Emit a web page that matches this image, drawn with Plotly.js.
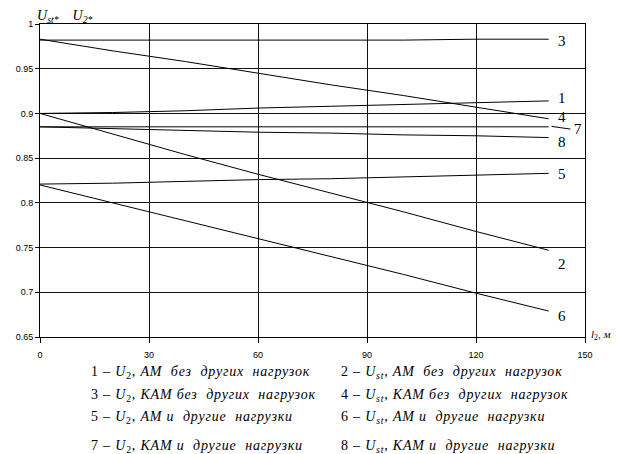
<!DOCTYPE html>
<html>
<head>
<meta charset="utf-8">
<script src="https://cdn.plot.ly/plotly-3.0.1.min.js"></script>
<style>
  html, body { margin: 0; padding: 0; background: #fff; }
  #chart { width: 621px; height: 454px; }
</style>
</head>
<body>
<div id="chart"></div>
<script>
// Cable length l2, m
const lengths = [0, 20, 40, 60, 80, 100, 120, 140];

// Relative voltages for the eight cases
const u2AmAlone   = [0.900, 0.901, 0.903, 0.906, 0.908, 0.910, 0.912, 0.914]; // 1
const ustAmAlone  = [0.900, 0.877, 0.854, 0.832, 0.811, 0.790, 0.768, 0.747]; // 2
const u2KamAlone  = [0.982, 0.982, 0.982, 0.982, 0.982, 0.982, 0.983, 0.983]; // 3
const ustKamAlone = [0.983, 0.970, 0.958, 0.945, 0.932, 0.920, 0.907, 0.894]; // 4
const u2AmOther   = [0.821, 0.822, 0.824, 0.826, 0.827, 0.829, 0.831, 0.833]; // 5
const ustAmOther  = [0.820, 0.800, 0.780, 0.760, 0.740, 0.720, 0.699, 0.679]; // 6
const u2KamOther  = [0.885, 0.885, 0.885, 0.885, 0.885, 0.885, 0.885, 0.885]; // 7
const ustKamOther = [0.885, 0.883, 0.881, 0.879, 0.878, 0.876, 0.875, 0.873]; // 8

const seriesList = [u2AmAlone, ustAmAlone, u2KamAlone, ustKamAlone,
                    u2AmOther, ustAmOther, u2KamOther, ustKamOther];
const curveNumbers = ['1', '2', '3', '4', '5', '6', '7', '8'];

// Curve number positions (x in m, y in relative units)
const labelX = [142, 142, 142, 142, 142, 142, 146.3, 142];
const labelY = [0.917, 0.732, 0.981, 0.896, 0.832, 0.673, 0.883, 0.868];

const xTicks = [0, 30, 60, 90, 120, 150];
const yTicks = [0.65, 0.7, 0.75, 0.8, 0.85, 0.9, 0.95, 1];
const yTickText = ['0.65', '0.7', '0.75', '0.8', '0.85', '0.9', '0.95', '1'];

const legendLines = [
  '1 – <i>U</i><sub>2</sub>, <i>АМ  без  других  нагрузок</i>',
  '2 – <i>U</i><sub><i>st</i></sub>, <i>АМ  без  других  нагрузок</i>',
  '3 – <i>U</i><sub>2</sub>, <i>КАМ без  других  нагрузок</i>',
  '4 – <i>U</i><sub><i>st</i></sub>, <i>КАМ без  других  нагрузок</i>',
  '5 – <i>U</i><sub>2</sub>, <i>АМ и  другие  нагрузки</i>',
  '6 – <i>U</i><sub><i>st</i></sub>, <i>АМ и  другие  нагрузки</i>',
  '7 – <i>U</i><sub>2</sub>, <i>КАМ и  другие  нагрузки</i>',
  '8 – <i>U</i><sub><i>st</i></sub>, <i>КАМ и  другие  нагрузки</i>'
];

const W = 621, H = 454;
const M = { l: 40, r: 36, t: 24, b: 117 };
const pw = W - M.l - M.r, ph = H - M.t - M.b;
const px2x = p => (p - M.l) / pw;
const py2y = p => (H - M.b - p) / ph;

const serif = 'Liberation Serif, Times New Roman, serif';

const traces = seriesList.map((ys, i) => ({
  x: lengths, y: ys, type: 'scatter', mode: 'lines',
  line: { color: '#000', width: 1 },
  name: curveNumbers[i], hoverinfo: 'skip'
}));

const annotations = [];
curveNumbers.forEach((n, i) => {
  annotations.push({
    x: labelX[i], y: labelY[i], xref: 'x', yref: 'y',
    text: n, showarrow: false, xanchor: 'left', yanchor: 'middle',
    font: { family: serif, size: 15, color: '#000' }
  });
});

// axis captions
annotations.push({
  xref: 'paper', yref: 'paper', x: px2x(35), y: py2y(27),
  xanchor: 'left', yanchor: 'bottom', showarrow: false,
  text: '<i>U</i><sub><i>st*</i></sub>\u00a0\u00a0\u00a0\u00a0<i>U</i><sub><i>2*</i></sub>',
  font: { family: serif, size: 14, color: '#000' }
});
annotations.push({
  xref: 'paper', yref: 'paper', x: px2x(589), y: py2y(335),
  xanchor: 'left', yanchor: 'middle', showarrow: false,
  text: '<i>l</i><sub>2</sub><i>, м</i>',
  font: { family: serif, size: 11, color: '#000' }
});

// legend text under the plot, two columns
const legendStart = annotations.length;
const colX = [89, 339];
const rowY = [372, 395, 417, 446];
legendLines.forEach((t, i) => {
  annotations.push({
    xref: 'paper', yref: 'paper',
    x: px2x(colX[i % 2]), y: py2y(rowY[Math.floor(i / 2)]),
    xanchor: 'left', yanchor: 'middle', showarrow: false,
    text: t.replace(/  /g, '\u00a0\u00a0'),
    font: { family: serif, size: 14, color: '#000' }
  });
});

// short leader to curve number 7
const shapes = [{
  type: 'line', xref: 'x', yref: 'y',
  x0: 140.8, y0: 0.8855, x1: 146.0, y1: 0.8825,
  line: { color: '#000', width: 1 }
}];

const axisCommon = {
  showline: true, mirror: true, linecolor: '#000', linewidth: 1,
  showgrid: true, gridcolor: '#111', gridwidth: 1,
  zeroline: false, ticks: 'outside', tickcolor: '#000',
  tickfont: { family: 'Liberation Sans, Arial, sans-serif', size: 9, color: '#000' }
};

const layout = {
  width: W, height: H,
  margin: M,
  paper_bgcolor: '#fff', plot_bgcolor: '#fff',
  showlegend: false,
  xaxis: Object.assign({}, axisCommon, {
    range: [0, 150], tickvals: xTicks, ticktext: xTicks.map(String),
    ticklen: 5, ticklabelstandoff: 4
  }),
  yaxis: Object.assign({}, axisCommon, {
    range: [0.65, 1], tickvals: yTicks, ticktext: yTickText, ticklen: 4
  }),
  annotations: annotations,
  shapes: shapes
};

Plotly.newPlot('chart', traces, layout, { staticPlot: true, displayModeBar: false })
  .then(gd => {
    // caption lines below the plot are set with slightly spaced letters;
    // keep their left edge where it was before spacing
    gd.querySelectorAll('g.annotation').forEach(g => {
      const idx = Number(g.getAttribute('data-index'));
      if (idx < legendStart) return;
      const t = g.querySelector('text.annotation-text');
      if (!t) return;
      const before = t.getBBox().x;
      t.style.letterSpacing = '0.8px';
      const after = t.getBBox().x;
      t.setAttribute('transform', 'translate(' + (before - after) + ',0)');
    });
  });
</script>
</body>
</html>
